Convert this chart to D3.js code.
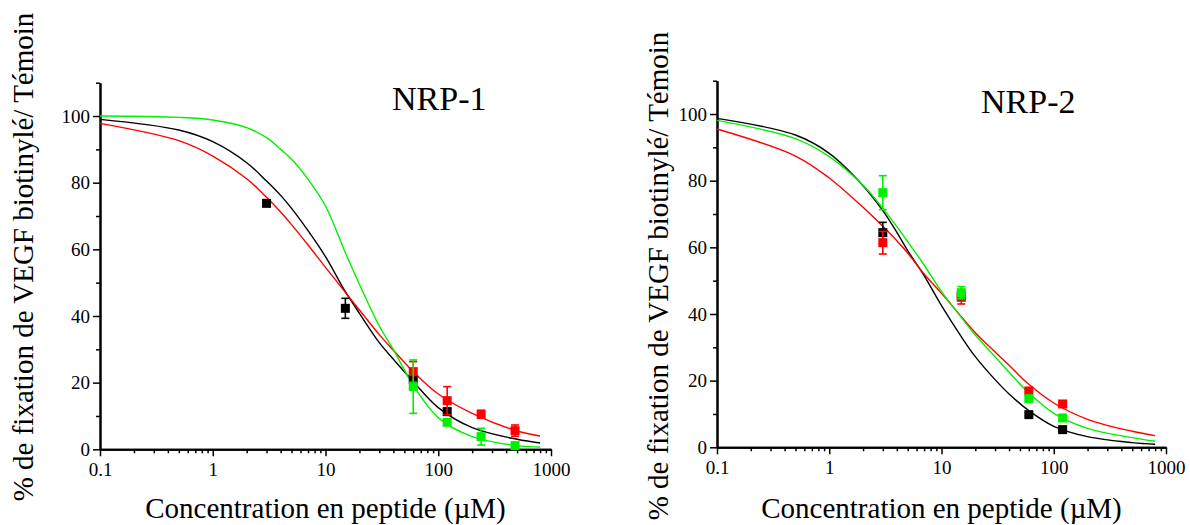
<!DOCTYPE html>
<html>
<meta charset="utf-8">
<style>
body { margin: 0; background: #fff; }
.axis path, .axis line { stroke: #000; fill: none; }
.axis path { stroke-width: 2; }
.axis line { stroke-width: 1.5; }
.fit { fill: none; stroke-width: 1.4; }
</style>
<body>
<script src="https://cdnjs.cloudflare.com/ajax/libs/d3/7.8.5/d3.min.js"></script>
<script>
var serif = "'Liberation Serif', 'Times New Roman', 'DejaVu Serif', serif";

// tick values
var xTicks = [0.1, 1, 10, 100, 1000];
var yTicks = [0, 20, 40, 60, 80, 100];
var yMinor = [10, 30, 50, 70, 90, 110];

// fitted curves at these concentrations
var fitX = [0.1, 0.5, 1, 2, 3, 4, 5, 7, 10, 15, 20, 30, 40, 60, 100, 200, 500, 800];

var nrp1Black = [99.0, 95.8, 92.3, 86.0, 80.5, 76.2, 72.3, 65.6, 57.8, 47.3, 40.8, 32.0, 27.0, 20.3, 12.5, 6.5, 3.0, 1.9];
var nrp1Red   = [97.8, 92.6, 88.0, 81.2, 75.6, 71.2, 67.4, 61.3, 54.6, 47.1, 41.8, 34.4, 29.7, 23.3, 16.6, 10.8, 5.5, 4.0];
var nrp1Green = [100, 99.6, 98.8, 96.5, 93.5, 90.0, 87.0, 81.0, 73.0, 59.0, 49.5, 37.0, 29.9, 19.2, 9.5, 3.8, 1.1, 0.7];

var nrp2Black = [98.7, 93.7, 88.2, 78.5, 71.0, 64.5, 59.0, 51.5, 42.5, 33.2, 27.2, 20.3, 16.0, 11.0, 6.3, 3.2, 1.4, 0.9];
var nrp2Red   = [95.5, 87.4, 80.8, 72.0, 66.3, 62.0, 58.3, 52.0, 46.2, 39.2, 34.4, 28.6, 24.6, 18.9, 13.3, 8.4, 4.8, 3.5];
var nrp2Green = [98.1, 92.6, 87.2, 78.6, 71.7, 66.2, 61.7, 54.7, 46.7, 39.0, 33.7, 27.2, 22.5, 16.3, 10.2, 5.7, 2.9, 1.8];

// measured points (mean, error)
var nrp1BlackX = [3, 15, 60, 120];
var nrp1BlackY = [73.8, 42.3, 21.0, 11.3];
var nrp1BlackE = [0.8, 3.0, 1.0, 1.0];
var nrp1RedX = [60, 120, 240, 480];
var nrp1RedY = [23.3, 14.6, 10.5, 5.6];
var nrp1RedE = [3.0, 4.2, 1.2, 1.7];
var nrp1GreenX = [60, 120, 240, 480];
var nrp1GreenY = [18.8, 8.1, 3.8, 1.1];
var nrp1GreenE = [8.0, 0.5, 2.5, 0.5];

var nrp2X = [3, 15, 60, 120];
var nrp2BlackY = [64.4, 45.5, 9.8, 5.3];
var nrp2BlackE = [3.1, 1.0, 0.5, 0.5];
var nrp2RedY = [61.4, 45.0, 16.9, 13.0];
var nrp2RedE = [3.4, 2.0, 0.5, 0.5];
var nrp2GreenY = [76.4, 46.4, 14.6, 8.8];
var nrp2GreenE = [5.1, 1.8, 0.5, 0.5];

var svg = d3.select("body").append("svg")
    .attr("width", 1190)
    .attr("height", 525)
    .attr("font-family", serif);

function zip(xs, ys, es) {
  return xs.map(function(x, i) { return {x: x, y: ys[i], e: es ? es[i] : 0}; });
}

function panel(opt) {
  var x = d3.scaleLog().domain([0.1, 1000]).range([opt.left, opt.right]);
  var y = d3.scaleLinear().domain([0, 110]).range([opt.bottom, opt.top]);

  // minor ticks on the log axis
  var xMinor = [];
  [0.1, 1, 10, 100].forEach(function(d) {
    for (var k = 2; k <= 9; k++) xMinor.push(d * k);
  });

  svg.append("g")
      .attr("class", "axis")
      .attr("transform", "translate(0," + opt.bottom + ")")
      .call(d3.axisBottom(x).tickValues(xMinor).tickSize(4).tickSizeOuter(0).tickFormat(""));
  svg.append("g")
      .attr("class", "axis")
      .attr("transform", "translate(0," + opt.bottom + ")")
      .call(d3.axisBottom(x).tickValues(xTicks).tickSize(7).tickSizeOuter(0).tickPadding(6)
        .tickFormat(function(d) { return String(d); }));

  svg.append("g")
      .attr("class", "axis")
      .attr("transform", "translate(" + opt.left + ",0)")
      .call(d3.axisLeft(y).tickValues(yMinor).tickSize(4).tickSizeOuter(0).tickFormat(""));
  svg.append("g")
      .attr("class", "axis")
      .attr("transform", "translate(" + opt.left + ",0)")
      .call(d3.axisLeft(y).tickValues(yTicks).tickSize(7).tickSizeOuter(0).tickPadding(3));

  svg.selectAll(".axis")
      .attr("font-family", serif)
      .attr("font-size", 19)
    .selectAll("text")
      .attr("fill", "#000");

  var line = d3.line()
      .x(function(d) { return x(d.x); })
      .y(function(d) { return y(d.y); })
      .curve(d3.curveCatmullRom.alpha(0.5));

  opt.series.forEach(function(s) {
    svg.append("path")
        .datum(zip(fitX, s.fit))
        .attr("class", "fit")
        .attr("stroke", s.color)
        .attr("d", line);
  });

  opt.series.forEach(function(s) {
    var pts = zip(s.px, s.py, s.pe);
    var g = svg.append("g");
    var bars = g.selectAll(".err").data(pts).enter().append("g")
        .attr("stroke", s.color)
        .attr("stroke-width", 1.6);
    bars.append("line")
        .attr("x1", function(d) { return x(d.x); })
        .attr("x2", function(d) { return x(d.x); })
        .attr("y1", function(d) { return y(d.y - d.e); })
        .attr("y2", function(d) { return y(d.y + d.e); });
    bars.append("line")
        .attr("x1", function(d) { return x(d.x) - 4; })
        .attr("x2", function(d) { return x(d.x) + 4; })
        .attr("y1", function(d) { return y(d.y + d.e); })
        .attr("y2", function(d) { return y(d.y + d.e); });
    bars.append("line")
        .attr("x1", function(d) { return x(d.x) - 4; })
        .attr("x2", function(d) { return x(d.x) + 4; })
        .attr("y1", function(d) { return y(d.y - d.e); })
        .attr("y2", function(d) { return y(d.y - d.e); });
    g.selectAll("rect").data(pts).enter().append("rect")
        .attr("x", function(d) { return x(d.x) - 4.5; })
        .attr("y", function(d) { return y(d.y) - 4.5; })
        .attr("width", 9)
        .attr("height", 9)
        .attr("fill", s.color);
  });

  svg.append("text")
      .attr("x", opt.titleX)
      .attr("y", opt.titleY)
      .attr("font-family", serif)
      .attr("font-size", 34)
      .text(opt.title);

  svg.append("text")
      .attr("x", (opt.left + opt.right) / 2)
      .attr("y", 518)
      .attr("text-anchor", "middle")
      .attr("font-family", serif)
      .attr("font-size", 29)
      .text("Concentration en peptide (\u00b5M)");

  svg.append("text")
      .attr("transform", "translate(" + opt.ylabX + "," + opt.ylabY + ") rotate(-90)")
      .attr("text-anchor", "middle")
      .attr("font-family", serif)
      .attr("font-size", 29)
      .text("% de fixation de VEGF biotinyl\u00e9/ T\u00e9moin");
}

panel({
  left: 100, right: 551, top: 82.7, bottom: 449.3,
  title: "NRP-1", titleX: 392, titleY: 110,
  ylabX: 33, ylabY: 257,
  series: [
    {color: "#000000", fit: nrp1Black, px: nrp1BlackX, py: nrp1BlackY, pe: nrp1BlackE},
    {color: "#ff0000", fit: nrp1Red, px: nrp1RedX, py: nrp1RedY, pe: nrp1RedE},
    {color: "#00f000", fit: nrp1Green, px: nrp1GreenX, py: nrp1GreenY, pe: nrp1GreenE}
  ]
});

panel({
  left: 717, right: 1166, top: 80.7, bottom: 447.3,
  title: "NRP-2", titleX: 981, titleY: 113,
  ylabX: 668, ylabY: 276,
  series: [
    {color: "#000000", fit: nrp2Black, px: nrp2X, py: nrp2BlackY, pe: nrp2BlackE},
    {color: "#ff0000", fit: nrp2Red, px: nrp2X, py: nrp2RedY, pe: nrp2RedE},
    {color: "#00f000", fit: nrp2Green, px: nrp2X, py: nrp2GreenY, pe: nrp2GreenE}
  ]
});
</script>
</body>
</html>
